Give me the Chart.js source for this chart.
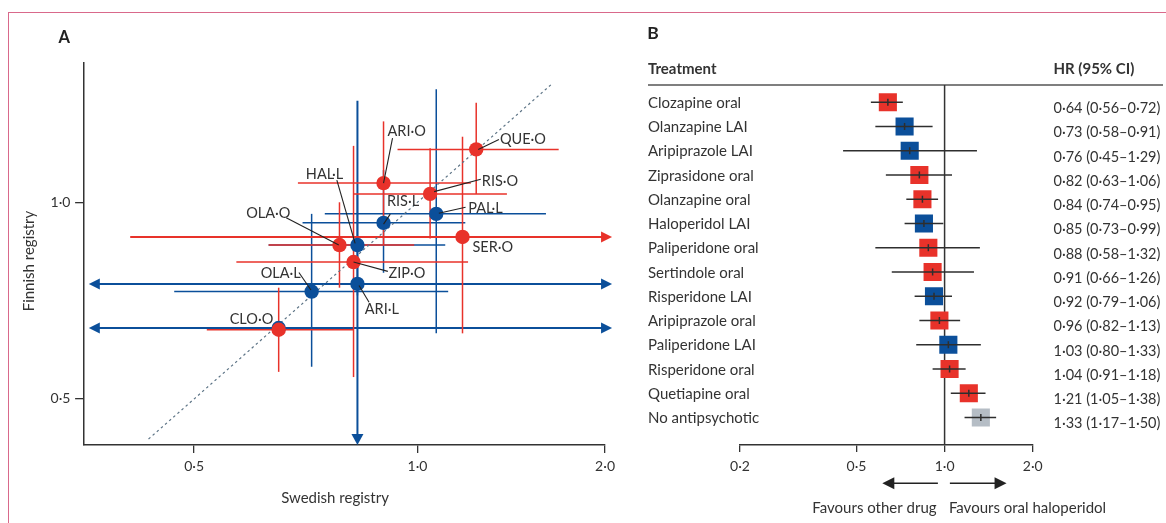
<!DOCTYPE html>
<html>
<head>
<meta charset="utf-8">
<script src="https://cdn.jsdelivr.net/npm/chart.js@4.4.1/dist/chart.umd.min.js"></script>
<style>
  html, body { margin: 0; padding: 0; background: #fff; }
  #wrap { position: relative; width: 1166px; height: 523px; overflow: hidden; }
  #frame { position: absolute; left: 8px; top: 12px; width: 1300px; height: 700px;
           border-left: 1.5px solid #d9698b; border-top: 1.5px solid #d9698b; }
  #chartA { position: absolute; left: 0; top: 0; }
  #chartB { position: absolute; left: 620px; top: 0; }
</style>
</head>
<body>
<div id="wrap">
  <div id="frame"></div>
  <canvas id="chartA" width="620" height="523"></canvas>
  <canvas id="chartB" width="546" height="523"></canvas>
</div>
<script>
const RED = "#e8322a";
const BLUE = "#0b4f9a";
const GREY = "#b5bdc5";
const INK = "#333";
const FONT = "Lato, 'Open Sans', sans-serif";

// ---- panel A: registry estimates, Swedish (x) vs Finnish (y)
const codes = ["QUE·O", "RIS·O", "ARI·O", "SER·O", "OLA·O", "ZIP·O", "CLO·O",
               "PAL·L", "RIS·L", "HAL·L", "ARI·L", "OLA·L", ""];
const formulation = ["oral", "oral", "oral", "oral", "oral", "oral", "oral",
                     "LAI", "LAI", "LAI", "LAI", "LAI", "LAI"];
const swedHR = [1.20, 1.04, 0.90, 1.15, 0.785, 0.82, 0.65, 1.06, 0.90, 0.83, 0.83, 0.72, 0.65];
const swedLo = [0.94, 0.82, 0.69, 0.41, 0.63, 0.57, 0.52, 0.75, 0.70, 0.63, 0.33, 0.47, 0.30];
const swedHi = [1.55, 1.32, 1.18, 3.20, 0.99, 1.17, 0.82, 1.49, 1.16, 1.09, 2.10, 1.10, 2.20];
const finHR = [1.205, 1.03, 1.07, 0.885, 0.86, 0.81, 0.638, 0.96, 0.93, 0.86, 0.75, 0.73, 0.642];
const finLo = [1.03, 0.88, 0.86, 0.63, 0.74, 0.54, 0.55, 0.63, 0.78, 0.72, 0.39, 0.56, null];
const finHi = [1.42, 1.21, 1.33, 1.26, 1.00, 1.22, 0.74, 1.49, 1.12, 1.03, 1.43, 0.96, null];

const X_MIN = 0.355, X_MAX = 1.79;
const Y_MIN = 0.425, Y_MAX = 1.638;
const xTicksA = [0.5, 1, X_MAX];
const xTickLabelsA = ["0·5", "1·0", "2·0"]; // last label pinned to the axis end
const yTicksA = [0.5, 1];
const yTickLabelsA = ["0·5", "1·0"];
const identity = [0.434, 1.513];

// label placement around each dot: text [dx, dy], leader [x1, y1, x2, y2]
const labelPos = [
  [23.7, -10.1, 2, 0, 22.7, -10],
  [51.7, -13.5, 4, -2.3, 50.7, -14.7],
  [4, -52.6, 0, 0, 9, -45],
  [10, 10.2],
  [-93.3, -32.2, -53.3, -27.3, -0.7, 0],
  [35, 10.3, 0, 0, 34.3, 9.3],
  [-49, -10.5],
  [32, -6.3, 2.6, -0.6, 29.3, -6.6],
  [3.4, -22, 6.7, -8.7, 0, 1.3],
  [-51.6, -71.5, -20.6, -65, -2.3, -1.6],
  [7.3, 25.4, 1.6, 1.7, 11.6, 18.4],
  [-51, -19, -12.7, -19, -0.7, -1.6],
  []
];

// ---- panel B: pooled hazard ratios vs oral haloperidol
const treatments = ["Clozapine oral", "Olanzapine LAI", "Aripiprazole LAI", "Ziprasidone oral",
  "Olanzapine oral", "Haloperidol LAI", "Paliperidone oral", "Sertindole oral", "Risperidone LAI",
  "Aripiprazole oral", "Paliperidone LAI", "Risperidone oral", "Quetiapine oral", "No antipsychotic"];
const groupB = ["oral", "LAI", "LAI", "oral", "oral", "LAI", "oral", "oral", "LAI", "oral", "LAI",
  "oral", "oral", "none"];
const hr = [0.64, 0.73, 0.76, 0.82, 0.84, 0.85, 0.88, 0.91, 0.92, 0.96, 1.03, 1.04, 1.21, 1.33];
const ciLow = [0.56, 0.58, 0.45, 0.63, 0.74, 0.73, 0.58, 0.66, 0.79, 0.82, 0.80, 0.91, 1.05, 1.17];
const ciHigh = [0.72, 0.91, 1.29, 1.06, 0.95, 0.99, 1.32, 1.26, 1.06, 1.13, 1.33, 1.18, 1.38, 1.50];
const xTicksB = [0.2, 0.5, 1, 2];

const fmt = (v) => v.toFixed(2).replace(".", "·");
const colourOf = (g) => (g === "oral" ? RED : g === "LAI" ? BLUE : GREY);

function line(ctx, x1, y1, x2, y2) {
  ctx.beginPath();
  ctx.moveTo(x1, y1);
  ctx.lineTo(x2, y2);
  ctx.stroke();
}

function arrowHead(ctx, x, y, dir, len, half) {
  ctx.beginPath();
  ctx.moveTo(x, y);
  if (dir === "right") { ctx.lineTo(x - len, y - half); ctx.lineTo(x - len, y + half); }
  if (dir === "left") { ctx.lineTo(x + len, y - half); ctx.lineTo(x + len, y + half); }
  if (dir === "down") { ctx.lineTo(x - half, y - len); ctx.lineTo(x + half, y - len); }
  if (dir === "up") { ctx.lineTo(x - half, y + len); ctx.lineTo(x + half, y + len); }
  ctx.closePath();
  ctx.fill();
}

const errorBarsA = {
  id: "errorBarsA",
  beforeDatasetsDraw(chart) {
    const { ctx, chartArea: a, scales: { x, y } } = chart;
    ctx.save();
    ctx.lineCap = "butt";
    ["LAI", "oral"].forEach((f) => {
      const col = f === "oral" ? RED : BLUE;
      ctx.strokeStyle = col;
      ctx.fillStyle = col;
      codes.forEach((c, i) => {
        if (formulation[i] !== f) return;
        const px = x.getPixelForValue(swedHR[i]);
        const py = y.getPixelForValue(finHR[i]);

        // Swedish CI
        const cutL = swedLo[i] < X_MIN, cutR = swedHi[i] > X_MAX;
        const l = cutL ? a.left + 5 : x.getPixelForValue(swedLo[i]);
        const r = cutR ? a.right + 7 : x.getPixelForValue(swedHi[i]);
        ctx.lineWidth = cutL || cutR ? 2 : 1.5;
        line(ctx, cutL ? l + 6 : l, py, cutR ? r - 6 : r, py);
        if (cutL) arrowHead(ctx, l, py, "left", 11, 5.5);
        if (cutR) arrowHead(ctx, r, py, "right", 11, 5.5);

        // Finnish CI
        if (finLo[i] == null) return;
        const cutB = finLo[i] < Y_MIN, cutT = finHi[i] > Y_MAX;
        const b = cutB ? a.bottom : y.getPixelForValue(finLo[i]);
        const t = cutT ? a.top : y.getPixelForValue(finHi[i]);
        ctx.lineWidth = cutB || cutT ? 2 : 1.5;
        line(ctx, px, t, px, cutB ? b - 6 : b);
        if (cutB) arrowHead(ctx, px, b, "down", 11, 6);
      });
    });
    ctx.restore();
  },
  afterDatasetsDraw(chart) {
    const { ctx, scales: { x, y } } = chart;
    ctx.save();
    ctx.font = `14.5px ${FONT}`;
    ctx.fillStyle = INK;
    ctx.strokeStyle = "#222";
    ctx.lineWidth = 1.1;
    ctx.textBaseline = "alphabetic";
    codes.forEach((c, i) => {
      if (!c) return;
      const px = x.getPixelForValue(swedHR[i]);
      const py = y.getPixelForValue(finHR[i]);
      const p = labelPos[i];
      if (p.length > 2) line(ctx, px + p[2], py + p[3], px + p[4], py + p[5]);
      ctx.fillText(c, px + p[0], py + p[1] + 5.2);
    });
    ctx.restore();
  },
  afterDraw(chart) {
    const { ctx } = chart;
    ctx.save();
    ctx.fillStyle = "#222";
    ctx.font = `bold 16.5px ${FONT}`;
    ctx.fillText("A", 58.5, 43.3);
    ctx.fillStyle = INK;
    ctx.font = `15px ${FONT}`;
    ctx.textAlign = "center";
    ctx.fillText("Swedish registry", 335, 502.5);
    ctx.translate(33.5, 261);
    ctx.rotate(-Math.PI / 2);
    ctx.fillText("Finnish registry", 0, 0);
    ctx.restore();
  }
};

const forestB = {
  id: "forestB",
  beforeDatasetsDraw(chart) {
    const { ctx, chartArea: a, scales: { x } } = chart;
    ctx.save();
    ctx.strokeStyle = "#555";
    ctx.lineWidth = 1.6;
    line(ctx, 28, a.top, 543, a.top);
    ctx.strokeStyle = INK;
    ctx.lineWidth = 1.5;
    const x1 = x.getPixelForValue(1);
    line(ctx, x1, a.top, x1, a.bottom);
    ctx.restore();
  },
  afterDatasetsDraw(chart) {
    const { ctx, scales: { x, y } } = chart;
    ctx.save();
    ctx.strokeStyle = "#2e2e2e";
    treatments.forEach((t, i) => {
      const yy = y.getPixelForValue(i);
      ctx.lineWidth = 1.4;
      line(ctx, x.getPixelForValue(ciLow[i]), yy, x.getPixelForValue(ciHigh[i]), yy);
      const xm = x.getPixelForValue(hr[i]);
      ctx.lineWidth = 1.5;
      line(ctx, xm, yy - 3.5, xm, yy + 3.5);
    });

    ctx.fillStyle = INK;
    ctx.textBaseline = "alphabetic";
    ctx.font = `15px ${FONT}`;
    treatments.forEach((t, i) => {
      ctx.fillText(t, 28, y.getPixelForValue(i) + 5.7);
    });
    ctx.font = `14.5px ${FONT}`;
    treatments.forEach((t, i) => {
      ctx.fillText(`${fmt(hr[i])} (${fmt(ciLow[i])}–${fmt(ciHigh[i])})`, 433.5, y.getPixelForValue(i) + 11);
    });

    ctx.font = `bold 15px ${FONT}`;
    ctx.fillText("Treatment", 28, 74);
    ctx.fillText("HR (95% CI)", 433.5, 74);
    ctx.fillStyle = "#222";
    ctx.font = `bold 17.5px ${FONT}`;
    ctx.fillText("B", 27.2, 39);

    // direction arrows under the axis
    const x1 = x.getPixelForValue(1);
    ctx.strokeStyle = "#222";
    ctx.fillStyle = "#222";
    ctx.lineWidth = 1.6;
    line(ctx, x1 - 6.7, 483.3, x1 - 52, 483.3);
    arrowHead(ctx, x1 - 62.3, 483.3, "left", 12, 6);
    line(ctx, x1 + 5.3, 483.3, x1 + 52, 483.3);
    arrowHead(ctx, x1 + 62, 483.3, "right", 12, 6);

    ctx.fillStyle = INK;
    ctx.font = `15px ${FONT}`;
    ctx.textAlign = "right";
    ctx.fillText("Favours other drug", x1 - 8, 513);
    ctx.textAlign = "left";
    ctx.fillText("Favours oral haloperidol", x1 + 4.3, 513);
    ctx.restore();
  }
};

function axisStyle(extra) {
  return Object.assign({
    border: { display: true, color: INK, width: 1.5 },
    grid: { display: true, drawOnChartArea: false, drawTicks: true, color: INK, lineWidth: 1.3 },
  }, extra);
}

function drawCharts() {
  const pointsOf = (f) => codes
    .map((c, i) => ({ x: swedHR[i], y: finHR[i], f: formulation[i] }))
    .filter((p) => p.f === f);

  new Chart(document.getElementById("chartA"), {
    type: "scatter",
    data: {
      datasets: [
        { data: pointsOf("oral"), pointRadius: 7.2, backgroundColor: RED, borderWidth: 0, order: 0 },
        { data: pointsOf("LAI"), pointRadius: 7.2, backgroundColor: BLUE, borderWidth: 0, order: 1 },
        {
          type: "line",
          data: identity.map((v) => ({ x: v, y: v })),
          borderColor: "#5d7486",
          borderWidth: 1.2,
          borderDash: [2.5, 3],
          pointRadius: 0,
          order: 2,
        },
      ],
    },
    options: {
      responsive: false,
      animation: false,
      devicePixelRatio: 1,
      layout: { padding: { left: 43.8, right: 14.2, top: 62.3, bottom: 38 } },
      plugins: { legend: { display: false }, tooltip: { enabled: false } },
      scales: {
        x: axisStyle({
          type: "logarithmic",
          min: X_MIN,
          max: X_MAX,
          afterBuildTicks: (s) => { s.ticks = xTicksA.map((v) => ({ value: v })); },
          afterFit: (s) => { s.height = 40; },
          grid: { display: true, drawOnChartArea: false, drawTicks: true, color: INK, lineWidth: 1.3, tickLength: 8 },
          ticks: {
            callback: (v, i) => xTickLabelsA[i],
            font: { family: FONT, size: 14 },
            color: INK,
            padding: 5,
            maxRotation: 0,
            autoSkip: false,
          },
        }),
        y: axisStyle({
          type: "logarithmic",
          min: Y_MIN,
          max: Y_MAX,
          afterBuildTicks: (s) => { s.ticks = yTicksA.map((v) => ({ value: v })); },
          afterFit: (s) => { s.width = 40; },
          grid: { display: true, drawOnChartArea: false, drawTicks: true, color: INK, lineWidth: 1.3, tickLength: 8.7 },
          ticks: {
            callback: (v, i) => yTickLabelsA[i],
            font: { family: FONT, size: 14 },
            color: INK,
            padding: 4.7,
            autoSkip: false,
          },
        }),
      },
    },
    plugins: [errorBarsA],
  });

  new Chart(document.getElementById("chartB"), {
    type: "scatter",
    data: {
      datasets: [{
        data: hr.map((v, i) => ({ x: v, y: i })),
        pointStyle: "rect",
        pointRadius: 12.8,
        backgroundColor: groupB.map(colourOf),
        borderWidth: 0,
      }],
    },
    options: {
      responsive: false,
      animation: false,
      devicePixelRatio: 1,
      layout: { padding: { left: 120, right: 133.3, top: 85, bottom: 38 } },
      plugins: { legend: { display: false }, tooltip: { enabled: false } },
      scales: {
        x: axisStyle({
          type: "logarithmic",
          min: 0.2,
          max: 2,
          afterBuildTicks: (s) => { s.ticks = xTicksB.map((v) => ({ value: v })); },
          afterFit: (s) => { s.height = 40; },
          grid: { display: true, drawOnChartArea: false, drawTicks: true, color: INK, lineWidth: 1.3, tickLength: 7 },
          ticks: {
            callback: (v) => fmt(v).slice(0, 3),
            font: { family: FONT, size: 14 },
            color: INK,
            padding: 6,
            maxRotation: 0,
            autoSkip: false,
          },
        }),
        y: { type: "linear", display: false, reverse: true, min: -0.709, max: 14.134 },
      },
    },
    plugins: [forestB],
  });
}

Promise.all([
  document.fonts.load(`15px Lato`),
  document.fonts.load(`bold 15px Lato`),
]).then(drawCharts, drawCharts);
</script>
</body>
</html>
